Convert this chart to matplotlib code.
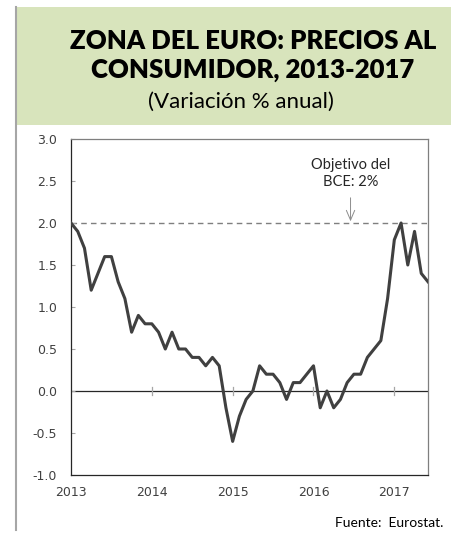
import numpy as np
import matplotlib.pyplot as plt
from matplotlib.patches import Rectangle
from matplotlib.lines import Line2D

# Euro area HICP, annual % change, Jan 2013 - Jun 2017
inflacion = [
    2.0, 1.9, 1.7, 1.2, 1.4, 1.6, 1.6, 1.3, 1.1, 0.7, 0.9, 0.8,      # 2013
    0.8, 0.7, 0.5, 0.7, 0.5, 0.5, 0.4, 0.4, 0.3, 0.4, 0.3, -0.2,     # 2014
    -0.6, -0.3, -0.1, 0.0, 0.3, 0.2, 0.2, 0.1, -0.1, 0.1, 0.1, 0.2,  # 2015
    0.3, -0.2, 0.0, -0.2, -0.1, 0.1, 0.2, 0.2, 0.4, 0.5, 0.6, 1.1,   # 2016
    1.8, 2.0, 1.5, 1.9, 1.4, 1.3,                                    # 2017
]
years = [2013, 2014, 2015, 2016, 2017]
y_ticks = [-1.0, -0.5, 0.0, 0.5, 1.0, 1.5, 2.0, 2.5, 3.0]
objetivo = 2.0

months = np.arange(len(inflacion))
year_pos = [(y - 2013) * 12 for y in years]

fig = plt.figure(figsize=(4.52, 5.33), dpi=100)

# title box
fig.patches.append(Rectangle((16 / 452, 1 - 125 / 533), 1 - 16 / 452, 118 / 533,
                             transform=fig.transFigure, facecolor='#d8e4bc',
                             edgecolor='none', zorder=0))
fig.lines.append(Line2D([16 / 452, 16 / 452], [1 - 530 / 533, 1 - 7 / 533],
                        transform=fig.transFigure, color='#a6a6a6', lw=1.5))
fig.text(253 / 452, 1 - 41 / 533, 'ZONA DEL EURO: PRECIOS AL', ha='center', va='center',
         fontsize=18.5, fontweight='heavy', family='Lato', color='black')
fig.text(253 / 452, 1 - 70 / 533, 'CONSUMIDOR, 2013-2017', ha='center', va='center',
         fontsize=18.5, fontweight='heavy', family='Lato', color='black')
fig.text(241 / 452, 1 - 102 / 533, '(Variación % anual)', ha='center', va='center',
         fontsize=16, family='Lato', color='black')

ax = fig.add_axes([71 / 452, 1 - 475 / 533, (428 - 71) / 452, (475 - 139) / 533])

ax.axhline(objetivo, color='#7f7f7f', lw=1, ls=(0, (4, 3)), zorder=1)
ax.axhline(0, color='#262626', lw=0.9, zorder=1)
for xp in year_pos[1:]:
    ax.plot([xp, xp], [-0.05, 0.05], color='#a6a6a6', lw=0.9, zorder=1)
ax.plot(months, inflacion, color='#404040', lw=2.2, zorder=3)

# ECB target label and arrow
ax.text(41.5, 2.4, 'Objetivo del\nBCE: 2%', ha='center', va='bottom', fontsize=10.5,
        family='Lato', color='#262626', linespacing=1.3)
ax.annotate('', xy=(41.5, 2.02), xytext=(41.5, 2.3),
            arrowprops=dict(arrowstyle='->,head_length=0.7,head_width=0.3',
                            color='#8c8c8c', lw=0.7, shrinkA=0, shrinkB=0))

ax.set_xlim(0, len(inflacion) - 1)
ax.set_ylim(-1, 3)
ax.set_yticks(y_ticks)
ax.set_yticklabels([f'{v:.1f}' for v in y_ticks])
ax.set_xticks(year_pos)
ax.set_xticklabels([str(y) for y in years])
ax.tick_params(axis='y', direction='in', length=3, color='#a6a6a6', labelsize=9,
               labelcolor='#404040', pad=10)
ax.tick_params(axis='x', length=0, labelsize=9, labelcolor='#404040', pad=8)

ax.spines['left'].set_color('#262626')
ax.spines['bottom'].set_color('#262626')
ax.spines['top'].set_color('#7f7f7f')
ax.spines['right'].set_color('#7f7f7f')
for s in ax.spines.values():
    s.set_linewidth(0.9)

fig.text(443 / 452, 1 - 523 / 533, 'Fuente:  Eurostat.', ha='right', va='center',
         fontsize=10, family='Lato', color='black')

fig.savefig('out.png', dpi=100)
